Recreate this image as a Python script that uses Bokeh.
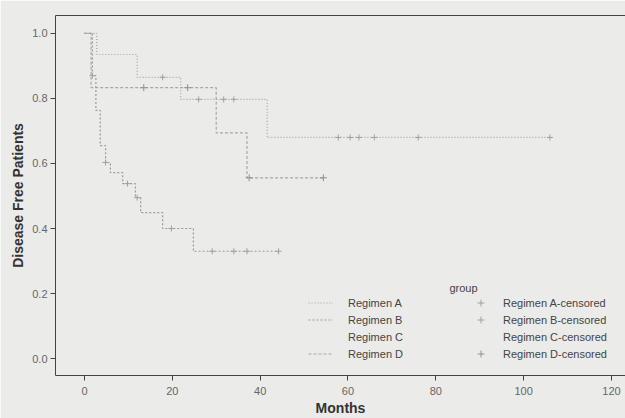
import numpy as np
from bokeh.plotting import figure
from bokeh.models import (Legend, LegendItem, LinearAxis, Range1d, Label,
                          FixedTicker, PrintfTickFormatter)
from bokeh.embed import file_html
from bokeh.resources import INLINE

# ---------------- data ----------------
a_times = [0, 2.8, 12.0, 21.9, 41.6]
a_surv = [1.0, 0.935, 0.865, 0.797, 0.68]
a_end = 106
a_cens = [17.8, 26, 31.7, 34, 57.8, 60.5, 62.5, 66, 76, 106]

b_times = [0, 1.8, 2.6, 3.6, 4.8, 5.9, 8.7, 11.6, 12.8, 17.8, 24.8]
b_surv = [1.0, 0.87, 0.763, 0.655, 0.603, 0.572, 0.538, 0.495, 0.449, 0.40, 0.33]
b_end = 44.2
b_cens = [1.8, 4.8, 9.8, 12.0, 19.8, 29.1, 34, 37, 44.2]

d_times = [0, 1.5, 30, 37]
d_surv = [1.0, 0.833, 0.694, 0.556]
d_end = 54.4
d_cens = [13.5, 23.5, 37.5, 54.4]

x_ticks = [0, 20, 40, 60, 80, 100, 120]
y_ticks = [0.0, 0.2, 0.4, 0.6, 0.8, 1.0]

FONT = "Liberation Sans"
BG = "#ebebe9"


def step_xy(times, surv, end):
    return list(times) + [end], list(surv) + [surv[-1]]


def cens_y(times, surv, cens):
    t = np.asarray(times)
    s = np.asarray(surv)
    idx = np.searchsorted(t, np.asarray(cens), side="right") - 1
    return list(s[idx])


p = figure(width=625, height=418, output_backend="svg", toolbar_location=None,
           x_range=Range1d(-6.6, 123.2), y_range=Range1d(-0.052, 1.055),
           min_border_left=55, min_border_top=15, min_border_right=0,
           min_border_bottom=43)
p.background_fill_color = BG
p.border_fill_color = BG
p.outline_line_color = None
p.xgrid.visible = False
p.ygrid.visible = False

# axes
for ax, ticks in ((p.xaxis[0], x_ticks), (p.yaxis[0], y_ticks)):
    ax.ticker = FixedTicker(ticks=ticks)
    ax.minor_tick_line_color = None
    ax.major_tick_in = 0
    ax.major_tick_out = 5
    ax.axis_line_color = "#444444"
    ax.major_tick_line_color = "#444444"
    ax.major_label_text_font = FONT
    ax.major_label_text_font_size = "11px"
    ax.major_label_text_color = "#666666"
    ax.axis_label_text_font = FONT
    ax.axis_label_text_font_size = "14px"
    ax.axis_label_text_font_style = "bold"
    ax.axis_label_text_color = "#333333"

p.yaxis[0].formatter = PrintfTickFormatter(format="%.1f")
p.xaxis[0].axis_label = "Months"
p.yaxis[0].axis_label = "Disease Free Patients"
p.xaxis[0].major_label_standoff = 6
p.xaxis[0].axis_label_standoff = 2
p.yaxis[0].major_label_standoff = 3
p.yaxis[0].axis_label_standoff = 3

top = LinearAxis(ticker=FixedTicker(ticks=[]), major_label_text_font_size="0px",
                 major_tick_out=0, major_tick_in=0, minor_tick_out=0,
                 minor_tick_in=0, axis_line_color="#444444",
                 major_label_standoff=0)
p.add_layout(top, "above")

# curves
ax_, ay_ = step_xy(a_times, a_surv, a_end)
bx_, by_ = step_xy(b_times, b_surv, b_end)
dx_, dy_ = step_xy(d_times, d_surv, d_end)

ra = p.step(ax_, ay_, mode="after", line_color="#a2a2a2", line_width=1.2,
            line_dash="1 2")
rb = p.step(bx_, by_, mode="after", line_color="#9a9a9a", line_width=1.2,
            line_dash="2 2")
rc = p.line([], [], line_alpha=0)
rd = p.step(dx_, dy_, mode="after", line_color="#a8a8a8", line_width=1.2,
            line_dash="3 2")

ca = p.scatter(a_cens, cens_y(a_times, a_surv, a_cens), marker="cross",
               size=6, line_color="#a0a0a0", line_width=1)
cb = p.scatter(b_cens, cens_y(b_times, b_surv, b_cens), marker="cross",
               size=6, line_color="#a0a0a0", line_width=1)
cc = p.scatter([], [], marker="cross", size=7, line_alpha=0)
cd = p.scatter(d_cens, cens_y(d_times, d_surv, d_cens), marker="cross",
               size=7, line_color="#909090", line_width=1)

common = dict(padding=0, margin=0, spacing=0, glyph_width=25, glyph_height=17,
              label_height=17, border_line_color=None, background_fill_alpha=0,
              label_text_font=FONT, label_text_font_size="11px",
              label_text_color="#444444")

leg1 = Legend(items=[LegendItem(label="Regimen A", renderers=[ra]),
                     LegendItem(label="Regimen B", renderers=[rb]),
                     LegendItem(label="Regimen C", renderers=[rc]),
                     LegendItem(label="Regimen D", renderers=[rd])],
              location=(253, 13), label_standoff=15, **common)
leg2 = Legend(items=[LegendItem(label="Regimen A-censored", renderers=[ca]),
                     LegendItem(label="Regimen B-censored", renderers=[cb]),
                     LegendItem(label="Regimen C-censored", renderers=[cc]),
                     LegendItem(label="Regimen D-censored", renderers=[cd])],
              location=(413, 13), label_standoff=10, **common)
p.add_layout(leg1)
p.add_layout(leg2)

p.add_layout(Label(x=86.3, y=0.218, text="group", text_align="center",
                   text_baseline="middle", text_font=FONT,
                   text_font_size="11px", text_color="#444444"))

open("out.html", "w").write(file_html(p, INLINE))
